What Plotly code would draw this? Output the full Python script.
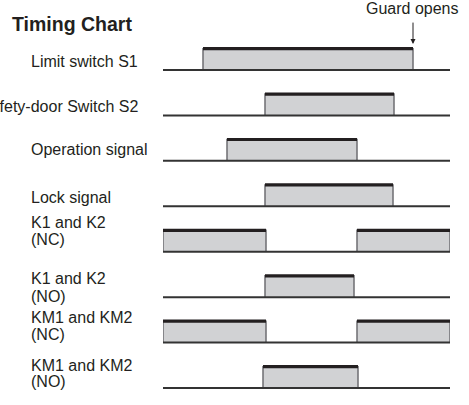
import plotly.graph_objects as go

# ---- data ----
signals = ["Limit switch S1", "Safety-door Switch S2", "Operation signal", "Lock signal",
           "K1 and K2<br>(NC)", "K1 and K2<br>(NO)", "KM1 and KM2<br>(NC)", "KM1 and KM2<br>(NO)"]
# ON intervals (time units)
on_intervals = [
    [(4.0, 25.0)],
    [(10.2, 23.1)],
    [(6.4, 19.4)],
    [(10.2, 23.0)],
    [(0.0, 10.3), (19.4, 28.7)],
    [(10.2, 19.1)],
    [(0.0, 10.3), (19.4, 28.7)],
    [(10.0, 19.5)],
]
t_start, t_end = 0.0, 28.7
guard_open_time = 25.0
pulse_height = 0.47

# ---- styling / layout ----
FONT = "Liberation Sans, Arial, sans-serif"
TXT = "#231f20"
FILL = "#d1d2d4"
EDGE = "#6d6e71"

fig = go.Figure()

for i, ivs in enumerate(on_intervals):
    base = -i
    for (s, e) in ivs:
        fig.add_trace(go.Scatter(x=[s, s, e, e], y=[base, base + pulse_height, base + pulse_height, base],
                                 mode="lines", fill="toself", fillcolor=FILL,
                                 line=dict(color=EDGE, width=1.5), hoverinfo="skip", showlegend=False))
        fig.add_trace(go.Scatter(x=[s, e], y=[base + pulse_height] * 2, mode="lines",
                                 line=dict(color=TXT, width=3.2), hoverinfo="skip", showlegend=False))
    fig.add_trace(go.Scatter(x=[t_start, t_end], y=[base, base], mode="lines",
                             line=dict(color="#333333", width=2), hoverinfo="skip", showlegend=False))

annotations = []
label_x_left = (29 - 163) / 287
label_x_right = (140 - 163) / 287
line_offsets = [
    [0.19], [0.19], [0.26], [0.19],
    [0.64, 0.26], [0.42, 0.02], [0.55, 0.18], [0.50, 0.14],
]
for i, name in enumerate(signals):
    lines = name.split("<br>")
    for ln, off in zip(lines, line_offsets[i]):
        right = (i == 1)
        annotations.append(dict(x=label_x_right if right else label_x_left, xref="paper",
                                y=-i + off, yref="y", text=ln, showarrow=False,
                                xanchor="right" if right else "left", yanchor="middle",
                                font=dict(family=FONT, size=16, color=TXT)))

annotations.append(dict(x=(10 - 163) / 287, xref="paper", y=(400 - 24) / 360, yref="paper",
                        text="<b>Timing Chart</b>", showarrow=False, xanchor="left", yanchor="middle",
                        font=dict(family=FONT, size=19.5, color=TXT)))
annotations.append(dict(x=guard_open_time - 0.1, xref="x", y=(400 - 8) / 360, yref="paper",
                        text="Guard opens", showarrow=False, xanchor="center", yanchor="middle",
                        font=dict(family=FONT, size=16, color=TXT)))
annotations.append(dict(x=guard_open_time, xref="x", y=pulse_height + 0.1, yref="y",
                        text="", showarrow=True, ax=0, ay=-23, arrowhead=2, arrowsize=1,
                        arrowwidth=1, arrowcolor=TXT))

fig.update_layout(
    width=469, height=405,
    margin=dict(l=163, r=19, t=40, b=5),
    paper_bgcolor="white", plot_bgcolor="white",
    xaxis=dict(range=[t_start, t_end], visible=False, fixedrange=True),
    yaxis=dict(range=[-7.264, 0.660], visible=False, fixedrange=True),
    annotations=annotations,
    showlegend=False,
)

fig.write_html("out.html", config={"displayModeBar": False, "staticPlot": True},
               post_script="document.body.style.margin='0';")
